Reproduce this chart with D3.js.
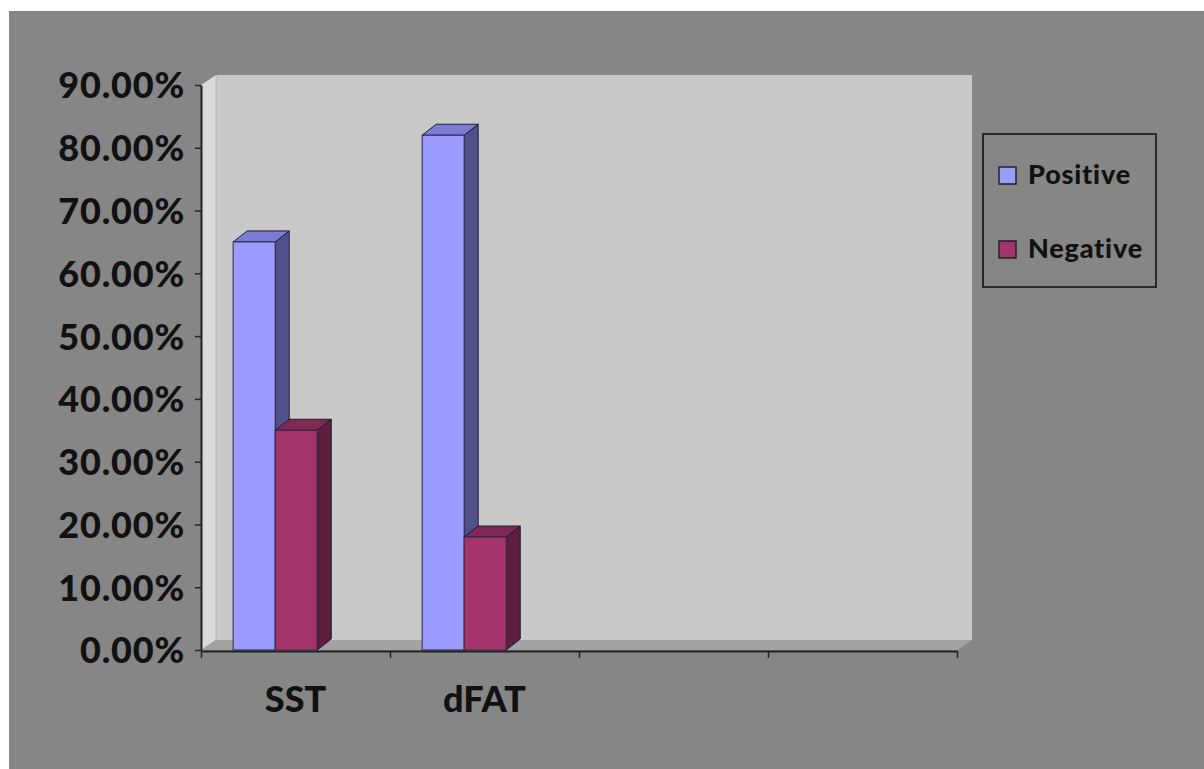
<!DOCTYPE html>
<html>
<head>
<meta charset="utf-8">
<script src="https://cdnjs.cloudflare.com/ajax/libs/d3/7.8.5/d3.min.js"></script>
<style>
  html, body { margin: 0; padding: 0; background: #ffffff; }
  svg { display: block; }
  text { font-family: Lato, "Open Sans", sans-serif; font-weight: 900; fill: #111; }
</style>
</head>
<body>
<svg id="chart" width="1204" height="769"></svg>
<script>
// ---- data ----
const categories = ["SST", "dFAT", "", ""];
const seriesNames = ["Positive", "Negative"];
const positiveValues = [0.65, 0.82, null, null];
const negativeValues = [0.35, 0.18, null, null];
const yTicks = [0, 0.1, 0.2, 0.3, 0.4, 0.5, 0.6, 0.7, 0.8, 0.9];

const colors = {
  Positive: { front: "#9c9cff", side: "#50508a", top: "#7c7cd6" },
  Negative: { front: "#a3336a", side: "#5c1e3c", top: "#7e2a55" }
};

const svg = d3.select("#chart");
const W = 1204, H = 769;

// outer chart area
svg.append("rect").attr("x", 9).attr("y", 11).attr("width", W - 9).attr("height", H - 11)
  .attr("fill", "#868686");

// plot geometry
const pLeft = 201, pRight = 957, pTop = 85, pBottom = 650;
const wallDx = 15, wallDy = -10;   // depth of the wall / floor
const barDx = 14, barDy = -11;     // depth of the bars

const y = d3.scaleLinear().domain([0, 0.9]).range([pBottom, pTop]);
const x = d3.scaleBand().domain(d3.range(categories.length)).range([pLeft, pRight]);
const bw = x.bandwidth();
const xs = d3.scaleBand().domain(seriesNames).range([bw * 0.17, bw * 0.615]);

// walls
const g = svg.append("g");
g.append("polygon")
  .attr("points", [[pLeft + wallDx, pTop + wallDy], [pRight + wallDx, pTop + wallDy], [pRight + wallDx, pBottom + wallDy], [pLeft + wallDx, pBottom + wallDy]].join(" "))
  .attr("fill", "#c9c9c9");
g.append("polygon")
  .attr("points", [[pLeft, pTop], [pLeft + wallDx, pTop + wallDy], [pLeft + wallDx, pBottom + wallDy], [pLeft, pBottom]].join(" "))
  .attr("fill", "#dadada");
g.append("line").attr("x1", pLeft + wallDx).attr("x2", pLeft + wallDx)
  .attr("y1", pTop + wallDy).attr("y2", pBottom + wallDy)
  .attr("stroke", "#b4b4b4").attr("stroke-width", 1);
g.append("polygon")
  .attr("points", [[pLeft, pBottom], [pLeft + wallDx, pBottom + wallDy], [pRight + wallDx, pBottom + wallDy], [pRight, pBottom]].join(" "))
  .attr("fill", "#a2a2a2");

// bars
const barData = [];
categories.forEach((c, i) => {
  [positiveValues[i], negativeValues[i]].forEach((v, k) => {
    if (v != null) barData.push({ i, s: seriesNames[k], v });
  });
});
const bars = g.selectAll("g.bar").data(barData).enter().append("g").attr("class", "bar");
bars.each(function (d) {
  const el = d3.select(this);
  const x0 = x(d.i) + xs(d.s), x1 = x0 + xs.bandwidth();
  const y0 = y(d.v), yb = y(0);
  const c = colors[d.s];
  el.append("polygon")
    .attr("points", [[x1, y0], [x1 + barDx, y0 + barDy], [x1 + barDx, yb + barDy], [x1, yb]].join(" "))
    .attr("fill", c.side).attr("stroke", "#1c1c30").attr("stroke-width", 1).attr("stroke-linejoin", "round");
  el.append("polygon")
    .attr("points", [[x0, y0], [x0 + barDx, y0 + barDy], [x1 + barDx, y0 + barDy], [x1, y0]].join(" "))
    .attr("fill", c.top).attr("stroke", "#1c1c30").attr("stroke-width", 1).attr("stroke-linejoin", "round");
  el.append("rect").attr("x", x0).attr("y", y0).attr("width", x1 - x0).attr("height", yb - y0)
    .attr("fill", c.front).attr("stroke", "#2a2a44").attr("stroke-width", 1);
});

// y axis
const yAxis = svg.append("g").attr("transform", `translate(${pLeft},0)`)
  .call(d3.axisLeft(y).tickValues(yTicks).tickFormat(d3.format(".2%")).tickSize(6).tickSizeOuter(0).tickPadding(10));
yAxis.select(".domain").attr("stroke", "#222").attr("stroke-width", 2);
yAxis.selectAll(".tick line").attr("stroke", "#222").attr("stroke-width", 1.5);
yAxis.selectAll("text").style("font-size", "36px").style("letter-spacing", "0.8px")
  .attr("dy", "0.36em").attr("fill", "#111");

// x axis: boundary ticks
const xb = d3.scaleLinear().domain([0, categories.length]).range([pLeft, pRight]);
const xAxisT = svg.append("g").attr("transform", `translate(0,${pBottom + 1})`)
  .call(d3.axisBottom(xb).tickValues(d3.range(categories.length + 1)).tickFormat("").tickSize(7).tickSizeOuter(0));
xAxisT.select(".domain").attr("stroke", "#222").attr("stroke-width", 2);
xAxisT.selectAll(".tick line").attr("stroke", "#222").attr("stroke-width", 1.5);

// x axis labels
const xAxisL = svg.append("g").attr("transform", `translate(0,${pBottom + 1})`)
  .call(d3.axisBottom(x).tickFormat(i => categories[i]).tickSize(0).tickPadding(35));
xAxisL.select(".domain").remove();
xAxisL.selectAll("text").style("font-size", "36px").attr("fill", "#111");

// legend
const lg = svg.append("g").attr("transform", "translate(983,134)");
lg.append("rect").attr("width", 173).attr("height", 153)
  .attr("fill", "#868686").attr("stroke", "#2a2a2a").attr("stroke-width", 2);
seriesNames.forEach((s, k) => {
  const yy = 33 + k * 74;
  lg.append("rect").attr("x", 16).attr("y", yy).attr("width", 17).attr("height", 17)
    .attr("fill", colors[s].front).attr("stroke", "#222").attr("stroke-width", 1.5);
  lg.append("text").attr("x", 45).attr("y", yy + 17).text(s)
    .style("font-size", "27px").style("letter-spacing", "0.8px");
});
</script>
</body>
</html>
